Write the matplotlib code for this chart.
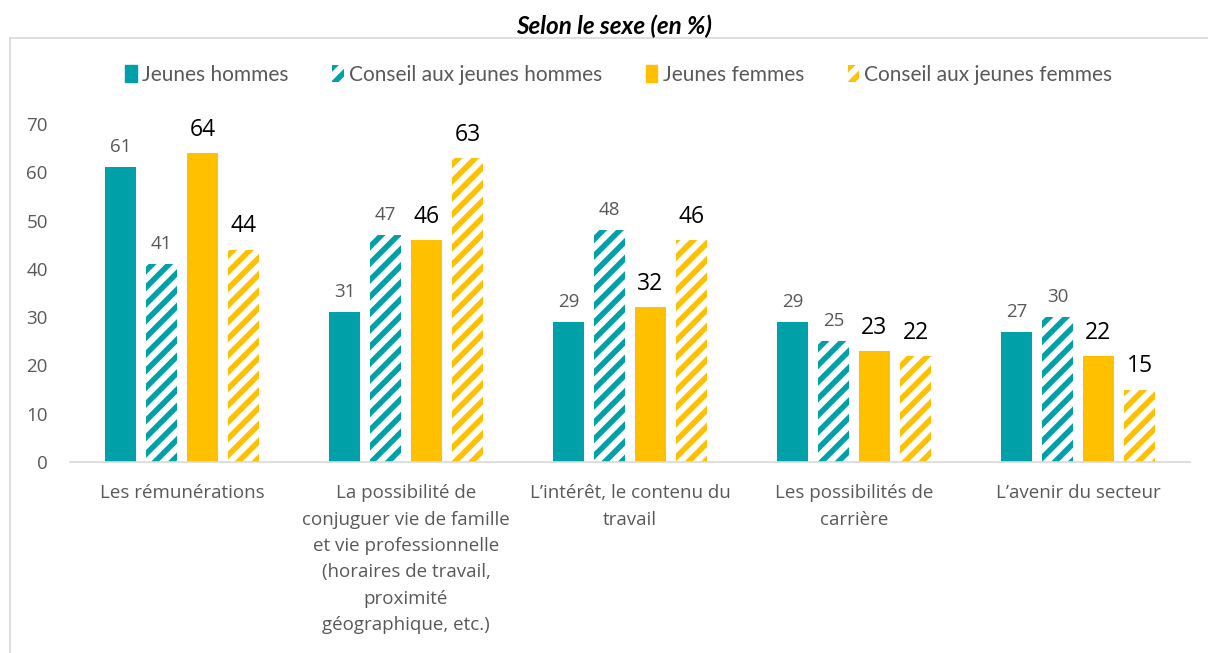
import matplotlib
matplotlib.use("Agg")
import matplotlib.pyplot as plt
from matplotlib.lines import Line2D
from matplotlib.patches import Patch
import numpy as np

categories = [
    "Les rémunérations",
    "La possibilité de\nconjuguer vie de famille\net vie professionnelle\n(horaires de travail,\nproximité\ngéographique, etc.)",
    "L’intérêt, le contenu du\ntravail",
    "Les possibilités de\ncarrière",
    "L’avenir du secteur",
]
series_names = ["Jeunes hommes", "Conseil aux jeunes hommes", "Jeunes femmes", "Conseil aux jeunes femmes"]
jeunes_hommes = [61, 31, 29, 29, 27]
conseil_hommes = [41, 47, 48, 25, 30]
jeunes_femmes = [64, 46, 32, 23, 22]
conseil_femmes = [44, 63, 46, 22, 15]
yticks = [0, 10, 20, 30, 40, 50, 60, 70]

TEAL = "#00A0A8"
YELLOW = "#FFC000"
GRAY = "#595959"

plt.rcParams['font.family'] = ['Open Sans', 'DejaVu Sans']
plt.rcParams['hatch.linewidth'] = 4.0
NARROW = ['Liberation Sans Narrow', 'Lato', 'DejaVu Sans']

fig = plt.figure(figsize=(12.08, 6.53), dpi=100)
ax = fig.add_axes([70/1208, 1-462/653, 1120/1208, 338/653])

x = np.arange(len(categories))
step = 41/224
width = 31/224
series = [jeunes_hommes, conseil_hommes, jeunes_femmes, conseil_femmes]
styles = [
    dict(color=TEAL),
    dict(facecolor="white", edgecolor=TEAL, hatch="//", linewidth=0),
    dict(color=YELLOW),
    dict(facecolor="white", edgecolor=YELLOW, hatch="//", linewidth=0),
]
lab_style = [
    dict(color=GRAY, fontsize=13.5),
    dict(color=GRAY, fontsize=13.5),
    dict(color="black", fontsize=16.5),
    dict(color="black", fontsize=16.5),
]
offsets = [-1.5, -0.5, 0.5, 1.5]
for vals, st, ls, off in zip(series, styles, lab_style, offsets):
    ax.bar(x + off*step, vals, width, **st)
    for xi, v in zip(x + off*step, vals):
        ax.annotate(str(v), (xi, v), xytext=(0, 8), textcoords="offset points",
                    ha="center", va="bottom", clip_on=False, **ls)

ax.set_xlim(-0.5, 4.5)
ax.set_ylim(0, 70)
ax.set_yticks(yticks)
ax.set_xticks(x)
ax.set_xticklabels(categories, fontsize=13.5, color=GRAY, linespacing=1.6)
ax.tick_params(axis='y', length=0, pad=16, labelsize=13.5, labelcolor=GRAY)
ax.tick_params(axis='x', length=0, pad=16)
for s in ["top", "right", "left"]:
    ax.spines[s].set_visible(False)
ax.spines["bottom"].set_color("#D9D9D9")
ax.spines["bottom"].set_linewidth(1.2)

handles = [
    Patch(color=TEAL),
    Patch(facecolor="white", edgecolor=TEAL, hatch="//", linewidth=0),
    Patch(color=YELLOW),
    Patch(facecolor="white", edgecolor=YELLOW, hatch="//", linewidth=0),
]
leg = fig.legend(handles, series_names, loc="center", bbox_to_anchor=(619/1208, 1-75/653),
                 ncol=4, frameon=False, prop={'family': NARROW, 'size': 15},
                 handlelength=0.55, handleheight=0.9,
                 handletextpad=0.25, columnspacing=2.1, labelcolor=GRAY)

fig.text(614/1208, 1-26/653, "Selon le sexe (en %)", ha="center", va="center",
         fontsize=17.5, fontweight="bold", fontstyle="italic", color="black", family=NARROW)

fig.add_artist(Line2D([10/1208, 10/1208], [1-38/653, 0], transform=fig.transFigure, color="#D9D9D9", lw=1.2))
fig.add_artist(Line2D([10/1208, 1], [1-38/653, 1-38/653], transform=fig.transFigure, color="#D9D9D9", lw=1.2))

fig.savefig("out.png", dpi=100)
